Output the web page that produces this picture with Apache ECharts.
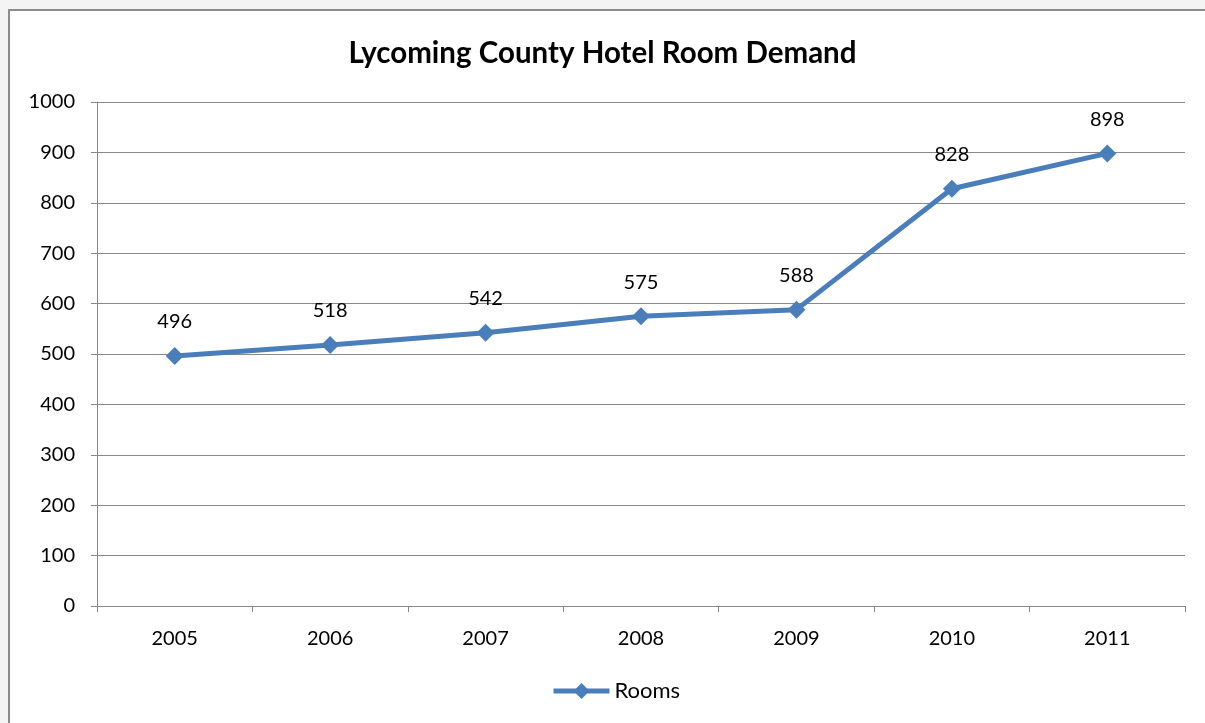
<!DOCTYPE html>
<html><head><meta charset="utf-8">
<script src="https://cdn.jsdelivr.net/npm/echarts@6/dist/echarts.min.js"></script>
<style>
html,body{margin:0;padding:0;background:#f4f4f4;overflow:hidden;}
#frame{position:absolute;left:8px;top:9px;width:1220px;height:740px;border:2px solid #8c8c8c;background:#fff;box-sizing:border-box;}
#chart{position:absolute;left:0;top:0;width:1205px;height:723px;}
</style></head>
<body>
<div id="frame"></div>
<div id="chart"></div>
<script>
const title = 'Lycoming County Hotel Room Demand';
const categories = ['2005','2006','2007','2008','2009','2010','2011'];
const rooms = [496, 518, 542, 575, 588, 828, 898];
const seriesName = 'Rooms';
const font = 'Lato, "Open Sans", sans-serif';

const chart = echarts.init(document.getElementById('chart'), null, {renderer:'canvas'});
chart.setOption({
  backgroundColor: 'transparent',
  animation: false,
  title: {
    text: title, left: 'center', top: 33,
    textStyle: {fontFamily: font, fontSize: 29.5, fontWeight: 'bold', color: '#000'}
  },
  grid: {left: 97, right: 20, top: 102, bottom: 117, containLabel: false},
  legend: {
    data: [seriesName], bottom: 16, left: 546,
    itemWidth: 56, itemHeight: 20, itemGap: 4,
    lineStyle: {width: 5},
    textStyle: {fontFamily: font, fontSize: 22, color: '#000'}
  },
  xAxis: {
    type: 'category', data: categories, boundaryGap: true,
    axisLine: {show: true, lineStyle: {color: '#888', width: 1}},
    axisTick: {show: true, length: 6, inside: false, lineStyle: {color: '#888'}},
    axisLabel: {fontFamily: font, fontSize: 20, color: '#000', margin: 23}
  },
  yAxis: {
    type: 'value', min: 0, max: 1000, interval: 100,
    axisLine: {show: true, lineStyle: {color: '#888', width: 1}},
    axisTick: {show: true, length: 6, lineStyle: {color: '#888'}},
    splitLine: {show: true, lineStyle: {color: '#888', width: 1}},
    axisLabel: {fontFamily: font, fontSize: 20, color: '#000', margin: 22,
      formatter: function (v) { return String(v); }}
  },
  series: [{
    name: seriesName, type: 'line', data: rooms,
    symbol: 'diamond', symbolSize: 18,
    lineStyle: {color: '#4a7ebb', width: 5},
    itemStyle: {color: '#4a7ebb'},
    label: {show: true, position: 'top', distance: 15,
      fontFamily: font, fontSize: 20, color: '#000'}
  }]
});
</script>
</body></html>
